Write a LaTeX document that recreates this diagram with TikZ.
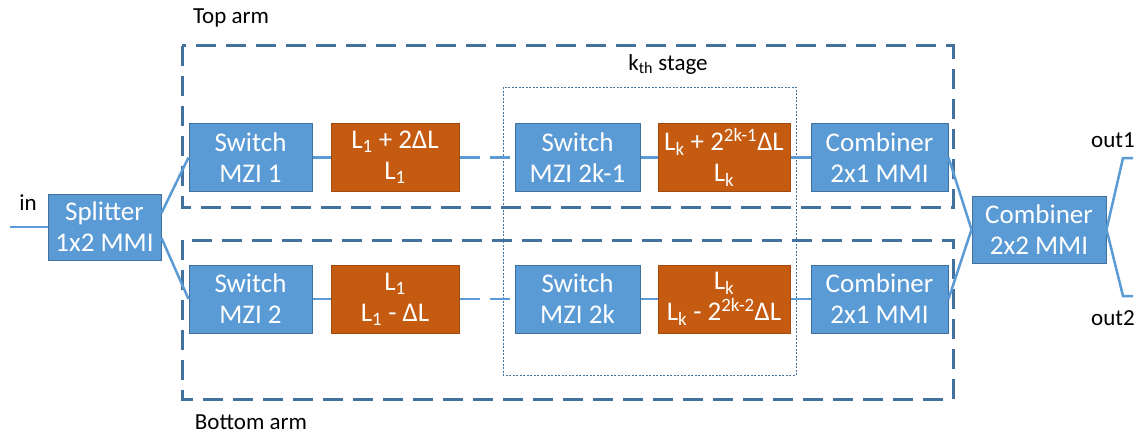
\documentclass[tikz,border=0pt]{standalone}
\usepackage{fontspec}
\setmainfont{Carlito}
\definecolor{boxblue}{HTML}{5B9BD5}
\definecolor{edgeblue}{HTML}{41719C}
\definecolor{delayorange}{HTML}{C55A11}
\definecolor{edgeorange}{HTML}{A04A10}

\begin{document}
\begin{tikzpicture}
[x=1pt,y=-1pt,%
  every node/.style={inner sep=0pt,font=\fontsize{23}{28}\selectfont},%
  blk/.style={draw=edgeblue,fill=boxblue,text=white,align=center,minimum height=68pt,line width=1pt,%
    font=\fontsize{27}{31}\selectfont},%
  dly/.style={blk,draw=edgeorange,fill=delayorange},%
  wire/.style={boxblue,line width=2.5pt},%
  armbox/.style={edgeblue,line width=3pt,dash pattern=on 20pt off 10pt},%
  stagebox/.style={edgeblue,line width=0.8pt,dash pattern=on 2pt off 1.5pt}]
\useasboundingbox (0,0) rectangle (1142,436);
% frames
\draw[armbox] (182,46) rectangle (953,207);
\draw[armbox] (182,240) rectangle (953,399);
\draw[stagebox] (503,87) rectangle (796,375);
\node (toplbl) at (231,18) {Top arm};
\node (botlbl) at (251,422) {Bottom arm};
\node (stagelbl) at (668,64) {k\textsubscript{th} stage};
% splitter
\node[blk,minimum width=113pt,minimum height=66pt] (split) at (104.5,227) {Splitter\\1x2 MMI};
\node (inlbl) at (28,203) {in};
\coordinate (in) at (10,227);
% top arm
\node[blk,minimum width=123pt] (sw1) at (250.5,157.5) {Switch\\MZI 1};
\node[dly,minimum width=128pt] (dl1) at (395,157.5) {L\textsubscript{1} + 2ΔL\\L\textsubscript{1}};
\node[blk,minimum width=125pt] (swk1) at (577.5,157.5) {Switch\\MZI 2k-1};
\node[dly,minimum width=132pt] (dlk1) at (724,157.5) {L\textsubscript{k} + 2\textsuperscript{2k-1}ΔL\\L\textsubscript{k}};
\node[blk,minimum width=137pt] (cmb1) at (879.5,157.5) {Combiner\\2x1 MMI};
% bottom arm
\node[blk,minimum width=123pt] (sw2) at (250.5,299) {Switch\\MZI 2};
\node[dly,minimum width=128pt] (dl2) at (395,299) {L\textsubscript{1}\\L\textsubscript{1} - ΔL};
\node[blk,minimum width=125pt] (swk2) at (577.5,299) {Switch\\MZI 2k};
\node[dly,minimum width=132pt] (dlk2) at (724,299) {L\textsubscript{k}\\L\textsubscript{k} - 2\textsuperscript{2k-2}ΔL};
\node[blk,minimum width=137pt] (cmb2) at (879.5,299) {Combiner\\2x1 MMI};
% output
\node[blk,minimum width=134pt,minimum height=67pt] (cmb) at (1039,229.5) {Combiner\\2x2 MMI};
\coordinate (o1a) at (1123,158);
\coordinate (o1) at (1133,158);
\coordinate (o2a) at (1123,296);
\coordinate (o2) at (1133,296);
\node (out1lbl) at (1113,140) {out1};
\node (out2lbl) at (1113,318) {out2};
% wires
\draw[wire] (in) -- (split.west);
\draw[wire] ([yshift=14pt]split.east) -- (sw1.west);
\draw[wire] ([yshift=-11pt]split.east) -- (sw2.west);
\draw[wire] (sw1) -- (dl1);
\draw[wire] (sw2) -- (dl2);
\draw[wire,dash pattern=on 20pt off 10pt] (dl1) -- (swk1);
\draw[wire,dash pattern=on 20pt off 10pt] (dl2) -- (swk2);
\draw[wire] (swk1) -- (dlk1);
\draw[wire] (swk2) -- (dlk2);
\draw[wire] (dlk1) -- (cmb1);
\draw[wire] (dlk2) -- (cmb2);
\draw[wire] (cmb1.east) -- (cmb.west);
\draw[wire] (cmb2.east) -- (cmb.west);
\draw[wire] (cmb.east) -- (o1a) -- (o1);
\draw[wire] (cmb.east) -- (o2a) -- (o2);
\end{tikzpicture}
\end{document}
